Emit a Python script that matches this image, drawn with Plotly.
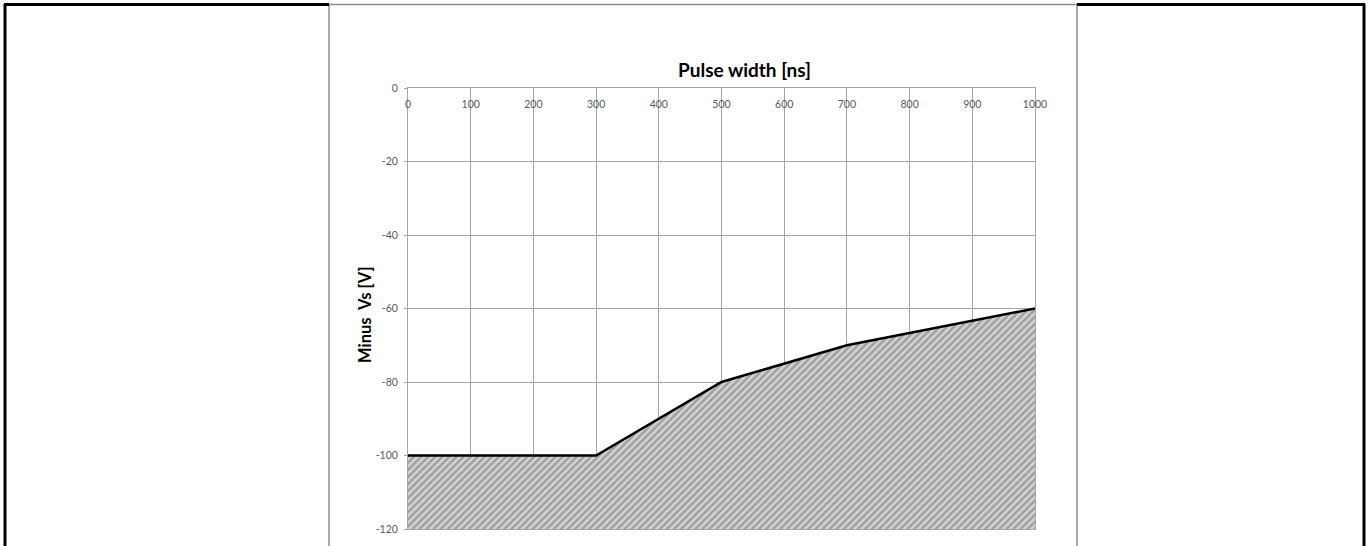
import plotly.graph_objects as go

# ---- data ----
pulse_width_ns = [0, 300, 500, 700, 1000]
minus_vs_v = [-100, -100, -80, -70, -60]
y_floor = -120
x_tick_vals = [0, 100, 200, 300, 400, 500, 600, 700, 800, 900, 1000]
x_tick_labels = ["0", "100", "200", "300", "400", "500", "600", "700", "800", "900", "1000"]
y_tick_vals = [0, -20, -40, -60, -80, -100, -120]
y_tick_labels = ["0", "-20", "-40", "-60", "-80", "-100", "-120"]

W, H = 1371, 546
L, R, T, B = 408, 1035, 88, 529  # plot area in pixels


def px(x):
    return (x - L) / (R - L)


def py(y):
    return (B - y) / (B - T)


fig = go.Figure()

# baseline at the axis floor
fig.add_trace(go.Scatter(
    x=[pulse_width_ns[0], pulse_width_ns[-1]], y=[y_floor, y_floor],
    mode="lines", line=dict(width=0, color="rgba(0,0,0,0)"),
    hoverinfo="skip", showlegend=False))

fig.add_trace(go.Scatter(
    x=pulse_width_ns, y=minus_vs_v, mode="lines",
    line=dict(color="#000000", width=2.5),
    fill="tonexty", fillcolor="#d4d4d4",
    fillpattern=dict(shape="/", fgcolor="#6a6a6a", bgcolor="#d4d4d4",
                     size=5, solidity=0.5),
    showlegend=False))

# invisible trace carrying the label axis (labels hang below the top axis line)
fig.add_trace(go.Scatter(
    x=pulse_width_ns, y=minus_vs_v, xaxis="x2", mode="none",
    hoverinfo="skip", showlegend=False))

grid = "#a6a6a6"
tickfont = dict(family="Lato, 'Liberation Sans', sans-serif", size=10.5, color="#595959")

fig.update_layout(
    xaxis=dict(
        range=[0, 1000], tickvals=x_tick_vals, showticklabels=False,
        showgrid=True, gridcolor=grid, gridwidth=1,
        showline=True, linecolor=grid, linewidth=1, mirror=True,
        ticks="", zeroline=False),
    xaxis2=dict(
        range=[0, 1000], matches="x", overlaying="x", anchor="free",
        position=1, side="bottom",
        tickvals=x_tick_vals, ticktext=x_tick_labels, tickfont=tickfont,
        showgrid=False, showline=False, ticks="outside", ticklen=6,
        tickcolor="rgba(0,0,0,0)", zeroline=False),
    yaxis=dict(
        range=[-120, 0], tickvals=y_tick_vals, ticktext=y_tick_labels,
        tickfont=tickfont, ticklabelstandoff=4,
        showgrid=True, gridcolor=grid, gridwidth=1,
        showline=True, linecolor=grid, linewidth=1, mirror=True,
        ticks="outside", ticklen=3, tickcolor=grid, zeroline=False),
)

annotations = [
    dict(text="<b>Pulse width [ns]</b>", xref="paper", yref="paper",
         x=px(744), y=py(70), xanchor="center", yanchor="middle",
         showarrow=False,
         font=dict(family="Lato, 'Liberation Sans', sans-serif", size=19, color="#000000")),
    dict(text="<b>Minus  Vs [V]</b>", xref="paper", yref="paper",
         x=px(365), y=py(315), xanchor="center", yanchor="middle",
         textangle=-90, showarrow=False,
         font=dict(family="Lato, 'Liberation Sans', sans-serif", size=16.5, color="#000000")),
]

shapes = []
black = "#000000"
gray = "#8c8c8c"
# vertical borders
for xp, col, w in [(5, black, 3), (329, gray, 1.5), (1077, gray, 1.5), (1364, black, 3)]:
    shapes.append(dict(type="line", xref="paper", yref="paper",
                       x0=px(xp), x1=px(xp), y0=py(4), y1=py(560),
                       line=dict(color=col, width=w)))
# top borders
for x0, x1, col, w in [(4, 329, black, 3), (329, 1077, gray, 1.5), (1077, 1365, black, 3)]:
    shapes.append(dict(type="line", xref="paper", yref="paper",
                       x0=px(x0), x1=px(x1), y0=py(4.5), y1=py(4.5),
                       line=dict(color=col, width=w)))

fig.update_layout(
    width=W, height=H,
    margin=dict(l=L, r=W - R, t=T, b=H - B),
    paper_bgcolor="#ffffff", plot_bgcolor="#ffffff",
    annotations=annotations, shapes=shapes,
)

fig.write_html("out.html", config={"displayModeBar": False},
               post_script="document.body.style.margin='0';document.body.style.overflow='hidden';")
